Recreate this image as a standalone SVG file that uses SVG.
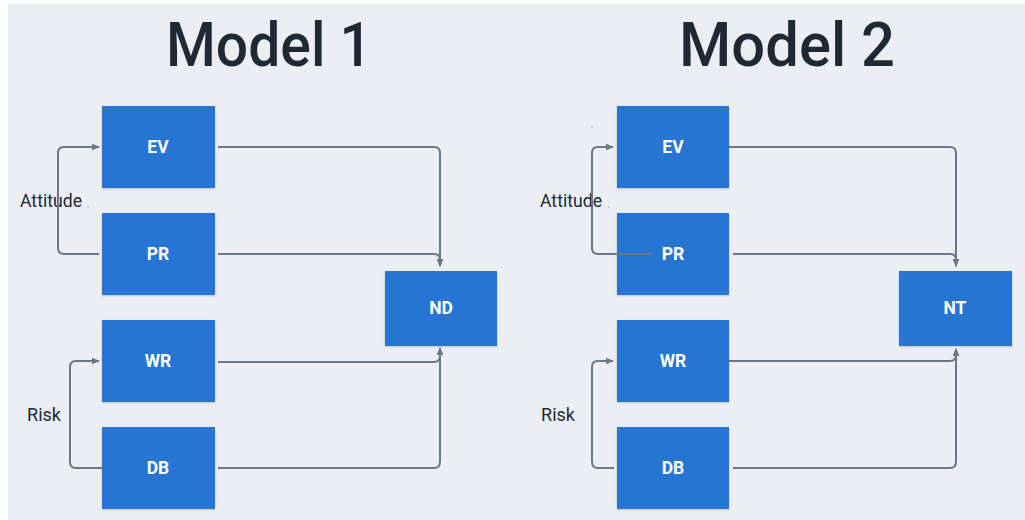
<svg xmlns="http://www.w3.org/2000/svg" width="1025" height="520" viewBox="0 0 1025 520">
<defs>
<marker id="ah" viewBox="0 0 8 8" refX="7" refY="4" markerWidth="8" markerHeight="8" markerUnits="userSpaceOnUse" orient="auto">
<path d="M0,0.8 L8,4 L0,7.2 Z" fill="#68778a"/>
</marker>
<filter id="sh" x="-10%" y="-10%" width="120%" height="130%">
<feDropShadow dx="0" dy="1" stdDeviation="0.8" flood-color="#000" flood-opacity="0.18"/>
</filter>
</defs>
<style>
.box{fill:#2774d3;filter:url(#sh)}
.lbl{font-family:"Roboto","Liberation Sans",sans-serif;font-weight:bold;font-size:17.5px;fill:#ffffff;text-anchor:middle}
.title{font-family:"Roboto","Liberation Sans",sans-serif;font-weight:500;font-size:62px;fill:#1e2935;text-anchor:middle}
.side{font-family:"Roboto","Liberation Sans",sans-serif;font-size:17.5px;fill:#1e2935}
.c{fill:none;stroke:#68778a;stroke-width:2}
.dot{fill:#9aa4b0}
</style>
<rect x="8" y="4" width="1017" height="516" fill="#ebeff4"/>
<text class="title" x="269" y="66" textLength="206" lengthAdjust="spacingAndGlyphs">Model 1</text>
<text class="title" x="787" y="66" textLength="216" lengthAdjust="spacingAndGlyphs">Model 2</text>
<g id="m1-labels">
<text class="side" x="20" y="207" textLength="62" lengthAdjust="spacingAndGlyphs">Attitude</text>
<circle class="dot" cx="88" cy="207" r="0.8"/>
<text class="side" x="27" y="421" textLength="34" lengthAdjust="spacingAndGlyphs">Risk</text>
</g>
<g id="m2-labels">
<text class="side" x="540" y="207" textLength="62" lengthAdjust="spacingAndGlyphs">Attitude</text>
<circle class="dot" cx="592" cy="127" r="0.8"/>
<circle class="dot" cx="609" cy="207" r="0.8"/>
<text class="side" x="541" y="421" textLength="34" lengthAdjust="spacingAndGlyphs">Risk</text>
</g>
<g id="m1-EV"><rect class="box" x="102" y="106" width="113" height="82"/><text class="lbl" x="158" y="153">EV</text></g>
<g id="m1-PR"><rect class="box" x="102" y="213" width="113" height="82"/><text class="lbl" x="158" y="260">PR</text></g>
<g id="m1-WR"><rect class="box" x="102" y="320" width="113" height="82"/><text class="lbl" x="158" y="367">WR</text></g>
<g id="m1-DB"><rect class="box" x="102" y="427" width="113" height="82"/><text class="lbl" x="158" y="474">DB</text></g>
<g id="m1-ND"><rect class="box" x="385" y="271" width="112" height="75"/><text class="lbl" x="441" y="314">ND</text></g>
<g id="m2-EV"><rect class="box" x="617" y="106" width="112" height="82"/><text class="lbl" x="673" y="153">EV</text></g>
<g id="m2-PR"><rect class="box" x="617" y="213" width="112" height="82"/><text class="lbl" x="673" y="260">PR</text></g>
<g id="m2-WR"><rect class="box" x="617" y="320" width="112" height="82"/><text class="lbl" x="673" y="367">WR</text></g>
<g id="m2-DB"><rect class="box" x="617" y="427" width="112" height="82"/><text class="lbl" x="673" y="474">DB</text></g>
<g id="m2-NT"><rect class="box" x="899" y="271" width="113" height="75"/><text class="lbl" x="955" y="314">NT</text></g>
<g id="connectors">
<path class="c" d="M99,254 H64 Q58,254 58,248 V153 Q58,147 64,147 H99" marker-end="url(#ah)"/>
<path class="c" d="M102,468 H76 Q70,468 70,462 V367 Q70,361 76,361 H99" marker-end="url(#ah)"/>
<path class="c" d="M218,147 H434 Q440,147 440,153 V266" marker-end="url(#ah)"/>
<path class="c" d="M218,254 H434 Q440,254 440,260 V266" marker-end="url(#ah)"/>
<path class="c" d="M218,362 H434 Q440,362 440,356 V348" marker-end="url(#ah)"/>
<path class="c" d="M218,468 H434 Q440,468 440,462 V348" marker-end="url(#ah)"/>
<path class="c" d="M651,254 H598 Q592,254 592,248 V153 Q592,147 598,147 H613" marker-end="url(#ah)"/>
<path class="c" d="M614,468 H598 Q592,468 592,462 V367 Q592,361 598,361 H613" marker-end="url(#ah)"/>
<path class="c" d="M729,147 H950 Q956,147 956,153 V266" marker-end="url(#ah)"/>
<path class="c" d="M733,254 H950 Q956,254 956,260 V266" marker-end="url(#ah)"/>
<path class="c" d="M729,361 H950 Q956,361 956,355 V349" marker-end="url(#ah)"/>
<path class="c" d="M733,468 H950 Q956,468 956,462 V349" marker-end="url(#ah)"/>
</g>
</svg>
